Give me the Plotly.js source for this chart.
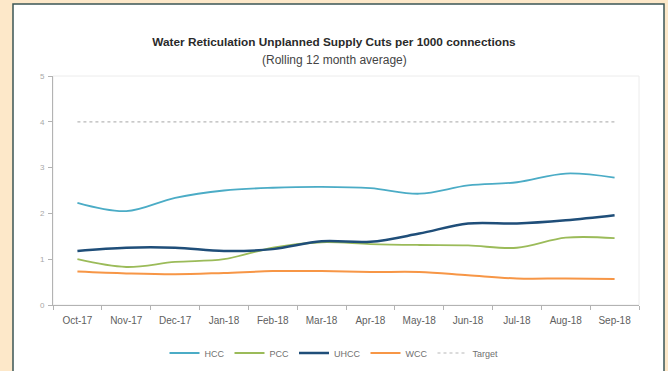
<!DOCTYPE html>
<html>
<head>
<meta charset="utf-8">
<script src="https://cdn.plot.ly/plotly-3.0.1.min.js"></script>
<style>
  html, body { margin: 0; padding: 0; background: #fde8c9; }
  #chart { width: 668px; height: 371px; }
</style>
</head>
<body>
<div id="chart"></div>
<script>
// Monthly rolling 12-month averages of unplanned supply cuts per 1000 connections
var months = ['Oct-17', 'Nov-17', 'Dec-17', 'Jan-18', 'Feb-18', 'Mar-18',
              'Apr-18', 'May-18', 'Jun-18', 'Jul-18', 'Aug-18', 'Sep-18'];
var hcc    = [2.23, 2.05, 2.34, 2.50, 2.56, 2.58, 2.55, 2.43, 2.61, 2.68, 2.87, 2.78];
var pcc    = [1.00, 0.83, 0.94, 1.00, 1.25, 1.37, 1.33, 1.31, 1.30, 1.25, 1.47, 1.46];
var uhcc   = [1.18, 1.25, 1.25, 1.18, 1.22, 1.39, 1.38, 1.56, 1.78, 1.78, 1.85, 1.96];
var wcc    = [0.73, 0.69, 0.67, 0.70, 0.74, 0.74, 0.72, 0.72, 0.65, 0.58, 0.58, 0.57];
var target = [4, 4, 4, 4, 4, 4, 4, 4, 4, 4, 4, 4];
var yTicks = [0, 1, 2, 3, 4, 5];

function series(name, values, color, width, dash) {
  return {
    type: 'scatter', mode: 'lines', name: name,
    x: months, y: values,
    line: { color: color, width: width, shape: dash ? 'linear' : 'spline', dash: dash || 'solid' },
    hoverinfo: 'skip'
  };
}

var traces = [
  series('HCC', hcc, '#4bacc6', 1.8),
  series('PCC', pcc, '#9bbb59', 1.8),
  series('UHCC', uhcc, '#1f4e79', 2.5),
  series('WCC', wcc, '#f79646', 2),
  series('Target', target, '#b8b8b8', 1.2, 'dot')
];

// plot area in pixels: x 53..639, y 76..305
var L = 53, R = 639, T = 76, B = 305, W = 668, H = 371;
function px(x) { return (x - L) / (R - L); }
function py(y) { return (B - y) / (B - T); }

var layout = {
  width: W, height: H,
  margin: { l: L, r: W - R, t: T, b: H - B, pad: 0 },
  paper_bgcolor: '#fde8c9',
  plot_bgcolor: 'rgba(0,0,0,0)',
  showlegend: true,
  title: {
    text: '<b>Water Reticulation Unplanned Supply Cuts per 1000 connections</b>',
    font: { family: 'Liberation Sans, Arial, sans-serif', size: 11.8, color: '#2a2a2a' },
    x: 334 / W, xanchor: 'center', xref: 'container',
    y: 1 - 42 / H, yanchor: 'middle', yref: 'container'
  },
  annotations: [{
    text: '(Rolling 12 month average)',
    xref: 'paper', yref: 'paper', x: px(334), y: py(60),
    xanchor: 'center', yanchor: 'middle', showarrow: false,
    font: { family: 'Liberation Sans, Arial, sans-serif', size: 12, color: '#444' }
  }],
  shapes: [
    { type: 'rect', xref: 'paper', yref: 'paper', layer: 'below',
      x0: px(13), x1: px(664), y0: py(380), y1: py(4),
      fillcolor: '#ffffff', line: { color: '#3b5555', width: 1.5 } },
    { type: 'rect', xref: 'paper', yref: 'paper', layer: 'below',
      x0: 0, x1: 1, y0: 0, y1: 1,
      fillcolor: 'rgba(0,0,0,0)', line: { color: '#ececec', width: 1 } }
  ],
  xaxis: {
    type: 'category', range: [-0.5, 11.5], fixedrange: true, automargin: false,
    showgrid: false, zeroline: false,
    showline: true, linecolor: '#b3b3b3', linewidth: 1,
    ticks: 'outside', tickson: 'boundaries', ticklen: 4, tickcolor: '#b3b3b3',
    ticklabelstandoff: 6,
    tickfont: { family: 'Liberation Sans, Arial, sans-serif', size: 10, color: '#606060' }
  },
  yaxis: {
    range: [0, 5], tickvals: yTicks, fixedrange: true, automargin: false,
    showgrid: false, zeroline: false,
    showline: true, linecolor: '#b3b3b3', linewidth: 1,
    ticks: 'outside', ticklen: 4, tickcolor: '#b3b3b3',
    ticklabelstandoff: 2,
    tickfont: { family: 'Liberation Sans, Arial, sans-serif', size: 8, color: '#a8a8a8' }
  },
  legend: {
    orientation: 'h', xref: 'paper', yref: 'container',
    x: px(334), xanchor: 'center', y: 1 - 353 / H, yanchor: 'middle',
    bgcolor: 'rgba(0,0,0,0)',
    font: { family: 'Liberation Sans, Arial, sans-serif', size: 9, color: '#707070' }
  }
};

Plotly.newPlot('chart', traces, layout, { displayModeBar: false, staticPlot: true });
</script>
</body>
</html>
